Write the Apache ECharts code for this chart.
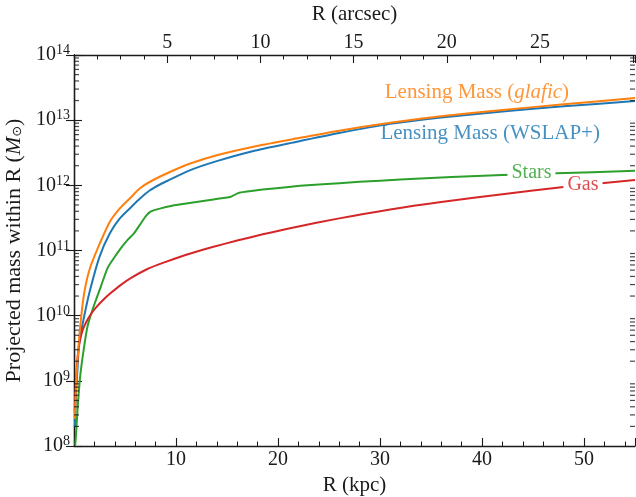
<!DOCTYPE html>
<html><head><meta charset="utf-8">
<script src="https://cdn.jsdelivr.net/npm/echarts@6/dist/echarts.min.js"></script>
<style>html,body{margin:0;padding:0;background:#fff}#c{width:636px;height:497px}</style>
</head><body><div id="c"></div>
<script>
// ---- data (R in kpc, projected mass within R in solar masses) ----
const R_GLAFIC = [0.08, 0.2, 0.35, 0.61, 1.0, 1.57, 2.55, 3.53, 4.51, 5.49, 6.47, 7.45, 9.4, 11.4, 14, 17.6, 21.3, 26, 31, 36, 42, 48, 55];
const M_GLAFIC = [2.59e8, 8.55e8, 2.14e9, 6.9e9, 2.23e10, 5.4e10, 1.3e11, 2.78e11, 4.46e11, 6.34e11, 9.0e11, 1.135e12, 1.6e12, 2.16e12, 2.9e12, 3.92e12, 5.05e12, 6.89e12, 9.12e12, 1.148e13, 1.432e13, 1.75e13, 2.18e13];

const R_WSLAP = [0.08, 0.2, 0.35, 0.51, 1.0, 1.5, 2.5, 3.53, 4.51, 5.49, 6.47, 7.45, 8.43, 9.4, 11.4, 14, 17.6, 21.3, 26, 31, 36, 42, 48, 55];
const M_WSLAP = [1.95e8, 6.24e8, 1.61e9, 3.85e9, 9.8e9, 2.23e10, 8.0e10, 1.85e11, 3.13e11, 4.46e11, 6.3e11, 8.4e11, 1.03e12, 1.22e12, 1.714e12, 2.355e12, 3.37e12, 4.48e12, 6.35e12, 8.77e12, 1.099e13, 1.358e13, 1.629e13, 1.963e13];

const R_STARS = [0.12, 0.19, 0.35, 0.61, 1.0, 1.33, 1.82, 2.64, 3.3, 3.8, 4.6, 5.26, 5.9, 6.57, 7.06, 7.5, 8.5, 9.5, 10.5, 11.5, 13.5, 15.4, 15.6, 16.2, 18.5, 21.3, 24, 28, 32, 37, 42, 47.3, 55];
const M_STARS = [1.04e8, 1.44e8, 3.68e8, 1.19e9, 3.41e9, 6.9e9, 1.24e10, 2.82e10, 5.4e10, 7.21e10, 1.089e11, 1.459e11, 1.849e11, 2.624e11, 3.396e11, 3.954e11, 4.426e11, 4.831e11, 5.129e11, 5.42e11, 6.03e11, 6.7e11, 6.93e11, 7.71e11, 8.63e11, 9.55e11, 1.026e12, 1.132e12, 1.227e12, 1.337e12, 1.439e12, 1.531e12, 1.667e12];

const R_GAS = [0.08, 0.12, 0.2, 0.3, 0.5, 0.8, 1.2, 1.7, 2.3, 3.0, 3.6, 4.5, 5.6, 7.2, 9, 10.5, 11.5, 13.5, 16, 18.5, 21.3, 26, 31, 36, 42, 48, 55];
const M_GAS = [3.43e8, 5.61e8, 1.02e9, 1.86e9, 3.5e9, 5.73e9, 8.0e9, 1.08e10, 1.41e10, 1.83e10, 2.22e10, 2.89e10, 3.79e10, 5.2e10, 6.7e10, 8.11e10, 9.1e10, 1.12e11, 1.42e11, 1.77e11, 2.22e11, 3.11e11, 4.27e11, 5.56e11, 7.31e11, 9.42e11, 1.21e12];

const SERIES_NAMES = ['Lensing Mass (glafic)', 'Lensing Mass (WSLAP+)', 'Stars', 'Gas'];
const X_RANGE_KPC = [0, 55];
const X_RANGE_ARCSEC = [0, 30.1];
const Y_DECADES = [8, 9, 10, 11, 12, 13, 14];
const Y_MINOR_MULT = [2, 3, 4, 5, 6, 7, 8, 9];

// ---- chart ----
const FONT = 'Liberation Serif';
const INK = '#1a1a1a';
const C_ORANGE = '#ff7f0e', C_BLUE = '#1f77b4', C_GREEN = '#2ca02c', C_RED = '#d62728';
const zip = (r, m) => r.map((x, i) => [x, m[i]]);
const minorY = [];
Y_DECADES.slice(0, -1).forEach(d => Y_MINOR_MULT.forEach(k => minorY.push(k * Math.pow(10, d))));

const chart = echarts.init(document.getElementById('c'), null, {renderer: 'canvas'});

const axisCommon = {
  axisLine: {show: true, lineStyle: {color: INK, width: 1.3}},
  axisTick: {show: true, inside: true, length: 8, lineStyle: {color: INK, width: 1.1}},
  splitLine: {show: false},
  minorSplitLine: {show: false}
};

function lineLabel(coord, text, color, bg, size, rich) {
  return {
    symbol: 'circle', symbolSize: 1, silent: true,
    itemStyle: {color: 'rgba(0,0,0,0)'},
    data: [{coord: coord}],
    label: {
      show: true, position: 'inside', formatter: text, color: color,
      fontFamily: FONT, fontSize: size,
      backgroundColor: bg ? '#fff' : 'transparent', padding: bg ? [0, 4] : 0,
      rich: rich || {}
    }
  };
}

const lineSeries = (name, data, color, z) => ({
  name: name, type: 'line', data: data, xAxisIndex: 0, yAxisIndex: 0,
  showSymbol: false, symbol: 'none', smooth: 0.25, z: z,
  lineStyle: {color: color, width: 2}, itemStyle: {color: color},
  emphasis: {disabled: true}, silent: true
});

const sWslap = lineSeries(SERIES_NAMES[1], zip(R_WSLAP, M_WSLAP), C_BLUE, 2);
sWslap.markPoint = lineLabel([40.8, 6.3e12], 'Lensing Mass (WSLAP+)', 'rgba(31,119,180,0.82)', false, 21);
const sGlafic = lineSeries(SERIES_NAMES[0], zip(R_GLAFIC, M_GLAFIC), C_ORANGE, 3);
sGlafic.markPoint = lineLabel([39.5, 2.7e13], 'Lensing Mass ({i|glafic})', 'rgba(255,127,14,0.82)', false, 21,
  {i: {fontStyle: 'italic', fontFamily: FONT, fontSize: 21, color: 'rgba(255,127,14,0.82)'}});
const sStars = lineSeries(SERIES_NAMES[2], zip(R_STARS, M_STARS), C_GREEN, 2);
sStars.markPoint = lineLabel([44.85, 1.56e12], 'Stars', 'rgba(44,160,44,0.82)', true, 20);
const sGas = lineSeries(SERIES_NAMES[3], zip(R_GAS, M_GAS), C_RED, 2);
sGas.markPoint = lineLabel([49.9, 1.03e12], 'Gas', 'rgba(214,39,40,0.82)', true, 20);

const minorTickSeries = (xVal, offset) => ({
  type: 'scatter', clip: false, z: 6,
  symbol: 'rect', symbolSize: [5, 1.2], symbolOffset: [offset, 0],
  itemStyle: {color: INK},
  data: minorY.map(v => [xVal, v])
});

const option = {
  animation: false,
  backgroundColor: '#fff',
  grid: {left: 74, right: 1, top: 55, bottom: 51, containLabel: false, outerBoundsMode: 'none'},
  xAxis: [
    Object.assign({}, axisCommon, {
      type: 'value', position: 'bottom', min: X_RANGE_KPC[0], max: X_RANGE_KPC[1], interval: 10,
      minorTick: {show: true, splitNumber: 5, length: 4.5, lineStyle: {color: INK, width: 1}},
      axisLabel: {color: INK, fontFamily: FONT, fontSize: 20, margin: 4,
        formatter: v => (v > 0 && v % 10 === 0) ? String(v) : ''},
      name: 'R (kpc)', nameLocation: 'middle', nameGap: 19,
      nameTextStyle: {color: INK, fontFamily: FONT, fontSize: 21}
    }),
    Object.assign({}, axisCommon, {
      type: 'value', position: 'top', min: X_RANGE_ARCSEC[0], max: X_RANGE_ARCSEC[1], interval: 5,
      minorTick: {show: true, splitNumber: 4, length: 4.5, lineStyle: {color: INK, width: 1}},
      axisLabel: {color: INK, fontFamily: FONT, fontSize: 20, margin: 2,
        formatter: v => (v > 0 && v < 29 && v % 5 === 0) ? String(v) : ''},
      name: 'R (arcsec)', nameLocation: 'middle', nameGap: 30,
      nameTextStyle: {color: INK, fontFamily: FONT, fontSize: 21}
    })
  ],
  yAxis: [
    Object.assign({}, axisCommon, {
      type: 'log', logBase: 10, position: 'left', min: 1e8, max: 1e14, splitNumber: 6,
      axisLabel: {
        color: INK, fontFamily: FONT, fontSize: 20, margin: 4,
        formatter: v => '{b|10}{s|' + Math.round(Math.log10(v)) + '}',
        rich: {
          b: {fontFamily: FONT, fontSize: 20, color: INK},
          s: {fontFamily: FONT, fontSize: 14, color: INK, padding: [0, 0, 9, 0]}
        }
      },
      name: 'Projected mass within R ({i|M}{s|⊙})', nameLocation: 'middle', nameGap: 44, nameRotate: 90,
      nameTextStyle: {
        color: INK, fontFamily: FONT, fontSize: 22,
        rich: {
          i: {fontStyle: 'italic', fontFamily: FONT, fontSize: 22, color: INK},
          s: {fontFamily: 'DejaVu Sans', fontSize: 13, color: INK, padding: [8, 0, 0, 0]}
        }
      }
    }),
    Object.assign({}, axisCommon, {
      type: 'log', logBase: 10, position: 'right', min: 1e8, max: 1e14, splitNumber: 6,
      axisLabel: {show: false}
    })
  ],
  series: [
    sWslap, sGlafic, sStars, sGas,
    minorTickSeries(X_RANGE_KPC[0], 2.5),
    minorTickSeries(X_RANGE_KPC[1], -2.5)
  ]
};
chart.setOption(option);
</script>
</body></html>
